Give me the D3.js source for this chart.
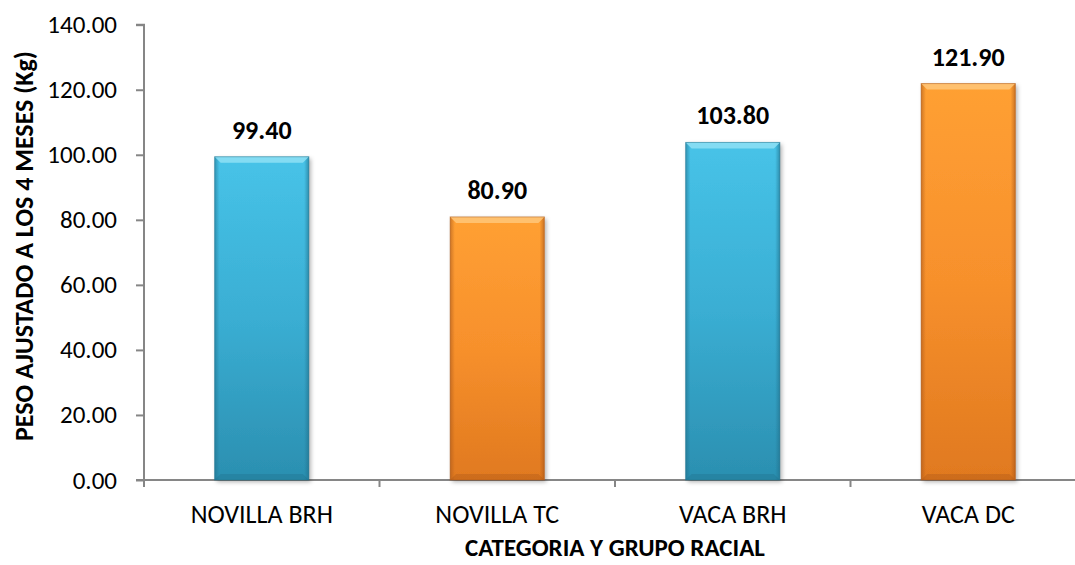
<!DOCTYPE html>
<html>
<head>
<meta charset="utf-8">
<script src="https://cdn.jsdelivr.net/npm/d3@7"></script>
<style>
html,body{margin:0;padding:0;background:#fff;}
svg{display:block;}
text{font-family:Carlito, Calibri, Lato, sans-serif;fill:#000;}
</style>
</head>
<body>
<svg id="chart" width="1075" height="565"></svg>
<script>
const categories = ["NOVILLA BRH", "NOVILLA TC", "VACA BRH", "VACA DC"];
const values = [99.40, 80.90, 103.80, 121.90];
const barColors = ["blue", "orange", "blue", "orange"];
const yTicks = [0, 20, 40, 60, 80, 100, 120, 140];
const yTitle = "PESO AJUSTADO A LOS 4 MESES (Kg)";
const xTitle = "CATEGORIA Y GRUPO RACIAL";

const svg = d3.select("#chart");
const m = {left:144, right:1086, top:24.7, bottom:480};

const x = d3.scaleBand().domain(categories).range([m.left, m.right]).paddingInner(0.6).paddingOuter(0.3);
const y = d3.scaleLinear().domain([0, 140]).range([m.bottom, m.top]);

const defs = svg.append("defs");
const pal = {
  blue:{top:"#47c3e8", mid:"#3aaed3", bot:"#2b8fb0", edge:"#1f6f8a", light:"#8fe0f5"},
  orange:{top:"#ffa033", mid:"#f7902c", bot:"#e0791f", edge:"#a8561a", light:"#ffc77a"}
};
Object.entries(pal).forEach(([k,c])=>{
  const g = defs.append("linearGradient").attr("id","v_"+k).attr("x1",0).attr("y1",0).attr("x2",0).attr("y2",1);
  g.append("stop").attr("offset","0%").attr("stop-color",c.top);
  g.append("stop").attr("offset","50%").attr("stop-color",c.mid);
  g.append("stop").attr("offset","100%").attr("stop-color",c.bot);
  const h = defs.append("linearGradient").attr("id","h_"+k).attr("x1",0).attr("y1",0).attr("x2",1).attr("y2",0);
  h.append("stop").attr("offset","0%").attr("stop-color",c.edge).attr("stop-opacity",0.55);
  h.append("stop").attr("offset","5%").attr("stop-color",c.edge).attr("stop-opacity",0.0);
  h.append("stop").attr("offset","95%").attr("stop-color",c.edge).attr("stop-opacity",0.0);
  h.append("stop").attr("offset","100%").attr("stop-color",c.edge).attr("stop-opacity",0.6);
});
const f = defs.append("filter").attr("id","shadow").attr("x","-10%").attr("y","-10%").attr("width","130%").attr("height","130%");
f.append("feDropShadow").attr("dx",2).attr("dy",2).attr("stdDeviation",2).attr("flood-color","#000").attr("flood-opacity",0.3);

// axes
const yAxis = d3.axisLeft(y).tickValues(yTicks).tickFormat(d3.format(".2f")).tickSize(8).tickPadding(19);
const gy = svg.append("g").attr("transform",`translate(${m.left},0)`).call(yAxis);
gy.select(".domain").attr("stroke","#868686").attr("stroke-width",2).attr("d",`M-8,${m.top}H0V${m.bottom+7}`);
gy.selectAll(".tick line").attr("stroke","#868686").attr("stroke-width",2);
gy.selectAll(".tick text").style("font-size","25px").attr("fill","#000");

const xAxis = d3.axisBottom(x).tickSize(0).tickPadding(25);
const gx = svg.append("g").attr("transform",`translate(0,${m.bottom})`).call(xAxis);
gx.select(".domain").attr("stroke","#868686").attr("stroke-width",2).attr("d",`M${m.left-8},0H${m.right}`);
gx.selectAll(".tick text").style("font-size","26px").attr("fill","#000");
const bounds = categories.map(c=>x(c)-x.step()*x.paddingInner()/2).slice(1).concat([m.right]);
gx.selectAll(".bt").data(bounds).enter().append("line").attr("class","bt")
  .attr("x1",d=>d).attr("x2",d=>d).attr("y1",0).attr("y2",7).attr("stroke","#868686").attr("stroke-width",2);
gx.append("line").attr("x1",m.left).attr("x2",m.left).attr("y1",0).attr("y2",7).attr("stroke","#868686").attr("stroke-width",2);

// bars
const bars = svg.append("g").selectAll("g").data(categories).enter().append("g");
bars.each(function(c,i){
  const g = d3.select(this);
  const k = barColors[i], cc = pal[k];
  const x0 = x(c), bw = x.bandwidth(), y0 = y(values[i]), bh = y(0)-y(values[i]);
  g.append("rect").attr("x",x0).attr("y",y0).attr("width",bw).attr("height",bh)
    .attr("fill",`url(#v_${k})`).attr("filter","url(#shadow)");
  g.append("rect").attr("x",x0).attr("y",y0).attr("width",bw).attr("height",bh).attr("fill",`url(#h_${k})`);
  const bv = 6;
  g.append("path").attr("d",`M${x0},${y0}H${x0+bw}L${x0+bw-bv},${y0+bv}H${x0+bv}Z`).attr("fill",cc.light).attr("opacity",0.85);
  g.append("path").attr("d",`M${x0},${y(0)}H${x0+bw}L${x0+bw-bv},${y(0)-bv}H${x0+bv}Z`).attr("fill",cc.edge).attr("opacity",0.35);
  g.append("rect").attr("x",x0).attr("y",y0).attr("width",bw).attr("height",bh).attr("fill","none").attr("stroke",cc.edge).attr("stroke-opacity",0.5).attr("stroke-width",1);
  g.append("text").attr("x",x0+bw/2).attr("y",y0-18).attr("text-anchor","middle")
    .style("font-size","26px").style("font-weight","bold").text(d3.format(".2f")(values[i]));
});

// titles
svg.append("text").attr("transform",`translate(27,246) rotate(-90)`).attr("text-anchor","middle").attr("dominant-baseline","middle")
  .style("font-size","26px").style("font-weight","bold").text(yTitle);
svg.append("text").attr("x",615).attr("y",556).attr("text-anchor","middle")
  .style("font-size","25px").style("font-weight","bold").text(xTitle);
</script>
</body>
</html>
